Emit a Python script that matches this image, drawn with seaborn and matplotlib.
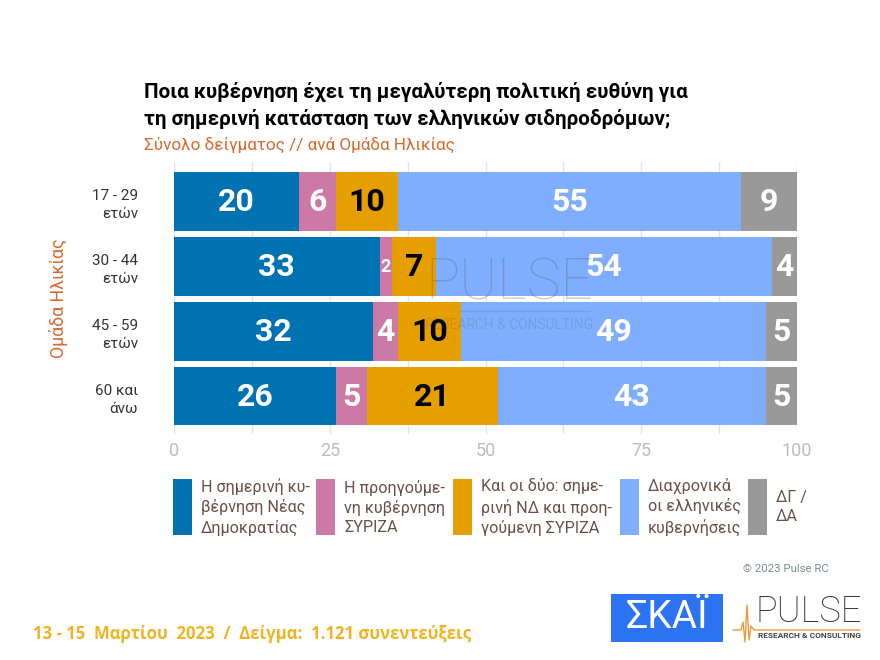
#!/usr/bin/env python3
import matplotlib
matplotlib.use("Agg")
import matplotlib.pyplot as plt
import numpy as np
import seaborn as sns
from matplotlib.patches import Rectangle

age_groups = ["17 - 29\nετών", "30 - 44\nετών", "45 - 59\nετών", "60 και\nάνω"]
nd_gov = [20, 33, 32, 26]
syriza_gov = [6, 2, 4, 5]
both = [10, 7, 10, 21]
all_govs = [55, 54, 49, 43]
dk_na = [9, 4, 5, 5]

series_values = [nd_gov, syriza_gov, both, all_govs, dk_na]
series_colors = ["#0072B2", "#CC79A7", "#E69F00", "#80AEFF", "#999999"]
label_colors = ["white", "white", "black", "white", "white"]
legend_labels = [
    "Η σημερινή κυ-\nβέρνηση Νέας\nΔημοκρατίας",
    "Η προηγούμε-\nνη κυβέρνηση\nΣΥΡΙΖΑ",
    "Και οι δύο: σημε-\nρινή ΝΔ και προη-\nγούμενη ΣΥΡΙΖΑ",
    "Διαχρονικά\nοι ελληνικές\nκυβερνήσεις",
    "ΔΓ /\nΔΑ",
]
x_ticks = [0, 25, 50, 75, 100]

W, H = 880, 660
FONT = ["Roboto", "DejaVu Sans"]

sns.set_theme(style="white")
plt.rcParams["font.family"] = FONT

fig = plt.figure(figsize=(W / 100, H / 100), dpi=100, facecolor="white")


def px_text(x, y, s, **kw):
    # position in reference pixels, y measured from the top
    return fig.text(x / W, 1 - y / H, s, **kw)


ax = fig.add_axes([174 / W, 1 - 434 / H, (797 - 174) / W, (434 - 162) / H])

# stacked bars, one seaborn layer per answer
left = np.zeros(len(age_groups))
for values, color, txt_color in zip(series_values, series_colors, label_colors):
    sns.barplot(x=values, y=age_groups, left=left, color=color, width=0.905,
                saturation=1, linewidth=0, edgecolor="none", ax=ax, zorder=2)
    for i, v in enumerate(values):
        ax.text(left[i] + v / 2, i + 0.01, str(v), ha="center", va="center",
                color=txt_color, fontsize=13 if v < 3 else 23, fontweight="bold", zorder=4)
    left += np.array(values)

ax.set_xlim(0, 100)
ax.set_ylim(3.585, -0.61)
ax.set_xticks(x_ticks)
ax.set_xticks(np.arange(0, 100.1, 12.5), minor=True)
ax.grid(True, axis="x", which="both", color="#E4E4E4", linewidth=1, zorder=0)
ax.set_axisbelow(True)
ax.tick_params(axis="x", which="both", length=0, pad=6, labelsize=13, labelcolor="#BDBDBD")
ax.tick_params(axis="y", length=0, pad=26, labelsize=11, labelcolor="#333333")
for lab in ax.get_yticklabels():
    lab.set_ha("right")
    lab.set_linespacing(1.4)
ax.set_xlabel("")
ax.set_ylabel("")
sns.despine(ax=ax, left=True, bottom=True, top=True, right=True)

# watermark
px_text(509, 284, "PULSE", ha="center", va="center", fontsize=41, color="#555555",
        alpha=0.28, fontweight="light", zorder=5)
px_text(509, 325, "RESEARCH & CONSULTING", ha="center", va="center", fontsize=10,
        color="#555555", alpha=0.2, zorder=5)
fig.add_artist(plt.Line2D(np.array([460, 590]) / W, 1 - np.array([311, 311]) / H, color="#555555",
                          alpha=0.15, linewidth=1, transform=fig.transFigure, zorder=5))

# titles
px_text(144, 92, "Ποια κυβέρνηση έχει τη μεγαλύτερη πολιτική ευθύνη για", fontsize=14.9,
        fontweight="bold", va="center", color="black")
px_text(144, 119, "τη σημερινή κατάσταση των ελληνικών σιδηροδρόμων;", fontsize=14.9,
        fontweight="bold", va="center", color="black")
px_text(144, 145, "Σύνολο δείγματος // ανά Ομάδα Ηλικίας", fontsize=12.3,
        va="center", color="#D8682C")
px_text(59, 298, "Ομάδα Ηλικίας", fontsize=12.7, rotation=90, ha="center", va="center",
        color="#D8682C")

# legend drawn by hand so the wrapped labels sit as in the original
swatch_x = [173, 316, 453, 620, 748]
text_x = [201, 344, 481, 648, 776]
for sx, tx, color, label in zip(swatch_x, text_x, series_colors, legend_labels):
    fig.add_artist(Rectangle((sx / W, 1 - 535 / H), 19 / W, 56 / H, facecolor=color,
                             edgecolor="none", transform=fig.transFigure))
    px_text(tx, 507, label, fontsize=11.6, va="center", ha="left", color="#6B4E48",
            linespacing=1.32)

# footer
px_text(743, 569, "© 2023 Pulse RC", fontsize=8.2, va="center", color="#7F8C8D")
px_text(33, 634, "13 - 15  Μαρτίου  2023  /  Δείγμα:  1.121 συνεντεύξεις", fontsize=12.1,
        fontweight="bold", va="center", color="#F0B323", family=["Open Sans", "DejaVu Sans"])

# logos
fig.add_artist(Rectangle((611 / W, 1 - 642 / H), 112 / W, 48 / H, facecolor="#2B73F0",
                         edgecolor="none", transform=fig.transFigure))
px_text(667, 618, "ΣΚΑΪ", fontsize=28, ha="center", va="center", color="white")
px_text(809, 612, "PULSE", fontsize=26, ha="center", va="center", color="#333333",
        fontweight="light")
px_text(809, 636, "RESEARCH & CONSULTING", fontsize=6, fontweight="bold", ha="center",
        va="center", color="#444444")
pulse_x = np.array([733, 741, 743, 745, 747, 749, 751, 754, 860])
pulse_y = np.array([630, 630, 622, 642, 605, 640, 626, 630, 630])
fig.add_artist(plt.Line2D(pulse_x / W, 1 - pulse_y / H, color="#EE9A3A", linewidth=1,
                          transform=fig.transFigure))

fig.savefig("out.png", dpi=100, facecolor="white")
plt.close(fig)
